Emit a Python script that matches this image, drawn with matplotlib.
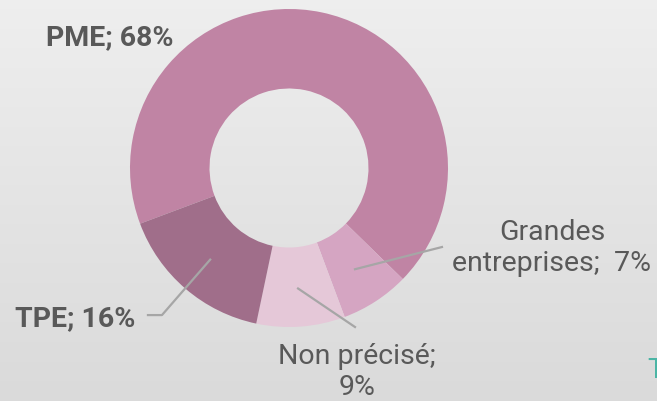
import numpy as np
import matplotlib
matplotlib.use("Agg")
import matplotlib.pyplot as plt

# données
categories = ["PME", "Grandes\nentreprises", "Non précisé", "TPE"]
parts = [68, 7, 9, 16]
couleurs = ["#C084A4", "#D5A5C2", "#E5C8D8", "#A06E8A"]
etiquettes = ["PME; 68%", "Grandes\nentreprises;  7%", "Non précisé;\n9%", "TPE; 16%"]

plt.rcParams['font.family'] = ['Roboto', 'DejaVu Sans']

W, H = 657, 401
fig = plt.figure(figsize=(W / 100, H / 100), dpi=100)

# fond en dégradé gris
bg = fig.add_axes([0, 0, 1, 1])
grad = np.linspace(0.935, 0.855, 256).reshape(-1, 1)
bg.imshow(np.dstack([grad, grad, grad]), aspect='auto', extent=[0, 1, 0, 1])
bg.set_axis_off()

# anneau
cx, cy, r = 289, 168, 159
ax = fig.add_axes([(cx - r) / W, (H - cy - r) / H, 2 * r / W, 2 * r / H])
ax.set_axis_off()
wedges, _ = ax.pie(parts, colors=couleurs, startangle=200.5, counterclock=False,
                   radius=1, wedgeprops=dict(width=0.5, linewidth=0))
ax.set_xlim(-1, 1)
ax.set_ylim(-1, 1)

gris = "#595959"
trait = "#A6A6A6"

def milieu(w, rr=0.76):
    a = np.deg2rad((w.theta1 + w.theta2) / 2)
    return rr * np.cos(a), rr * np.sin(a)

# PME
ax.text(-1.126, 0.818, etiquettes[0], ha='center', va='center', fontsize=20.5,
        fontweight='bold', color=gris, clip_on=False)

# Grandes entreprises
x0, y0 = milieu(wedges[1])
ax.plot([x0, 0.962], [y0, -0.497], color=trait, lw=1.6, clip_on=False)
ax.text(1.654, -0.505, etiquettes[1], ha='center', va='center', fontsize=20.5,
        color=gris, linespacing=1.2, clip_on=False)

# Non précisé
x0, y0 = milieu(wedges[2])
ax.plot([x0, 0.415], [y0, -1.0], color=trait, lw=1.6, clip_on=False)
ax.text(0.428, -1.283, etiquettes[2], ha='center', va='center', fontsize=20.5,
        color=gris, linespacing=1.2, clip_on=False)

# TPE
x0, y0 = milieu(wedges[3])
ax.plot([x0, -0.799, -0.887], [y0, -0.925, -0.925], color=trait, lw=1.6, clip_on=False)
ax.text(-1.346, -0.95, etiquettes[3], ha='center', va='center', fontsize=20.5,
        fontweight='bold', color=gris, clip_on=False)

# titre coupé en bas à droite
fig.text(647 / W, 1 - 357 / H, "T", ha='left', va='top', fontsize=20, color="#4BB5A5")

fig.savefig("out.png", dpi=100)
